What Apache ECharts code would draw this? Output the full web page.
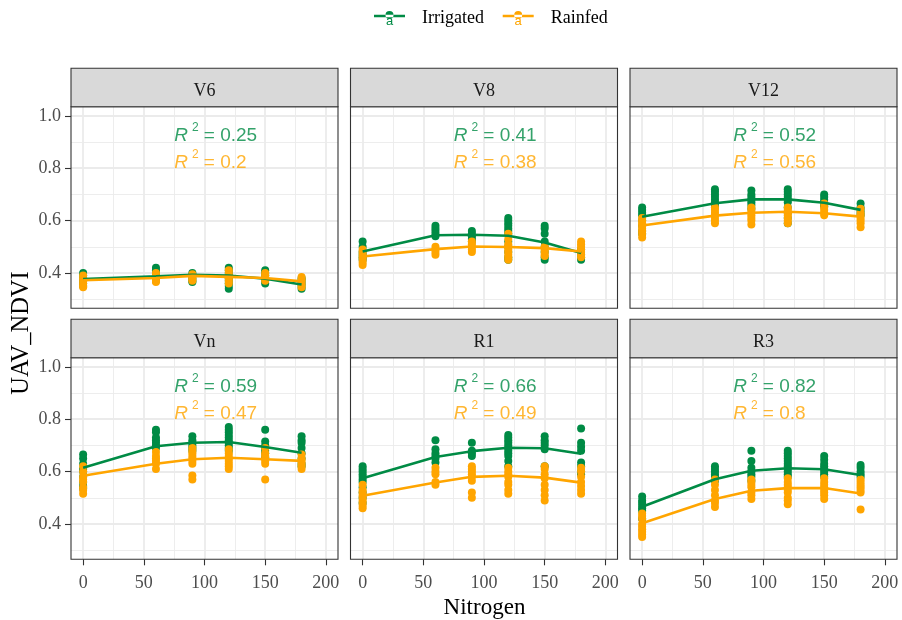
<!DOCTYPE html>
<html><head><meta charset="utf-8">
<script src="https://cdn.jsdelivr.net/npm/echarts@6/dist/echarts.min.js"></script>
<style>html,body{margin:0;padding:0;background:#fff}#c{width:902px;height:620px}</style>
</head><body><div id="c"></div>
<script>
// ---------------- DATA ----------------
const stages = ['V6', 'V8', 'V12', 'Vn', 'R1', 'R3'];
const nitrogen = [0, 60, 90, 120, 150, 180];
const xTicks = [0, 50, 100, 150, 200];
const yTicks = [0.4, 0.6, 0.8, 1.0];
const r2Irrigated = [0.25, 0.41, 0.52, 0.59, 0.66, 0.82];
const r2Rainfed = [0.2, 0.38, 0.56, 0.47, 0.49, 0.8];

// observed UAV_NDVI, one list per nitrogen level (0,60,90,120,150,180)
const irrV6 = [[0.40,0.39,0.38,0.37,0.36,0.35],[0.42,0.41,0.40,0.39,0.38,0.37],[0.40,0.39,0.38,0.37,0.365],[0.42,0.41,0.40,0.39,0.38,0.37,0.36,0.35,0.34],[0.41,0.40,0.39,0.38,0.37,0.36],[0.38,0.37,0.36,0.35,0.34]];
const rainV6 = [[0.39,0.38,0.37,0.36,0.35,0.345],[0.40,0.39,0.38,0.37,0.365],[0.395,0.385,0.375,0.37],[0.41,0.40,0.39,0.38,0.37,0.36],[0.40,0.39,0.38,0.37],[0.385,0.375,0.365,0.355,0.345]];
const irrV8 = [[0.52,0.50,0.48,0.47,0.46,0.45],[0.58,0.57,0.56,0.55,0.54],[0.56,0.55,0.54,0.53,0.52],[0.61,0.60,0.59,0.58,0.57,0.56,0.55,0.52,0.50,0.48,0.46,0.45],[0.58,0.57,0.55,0.52,0.50,0.48,0.46,0.45],[0.49,0.48,0.47,0.46,0.45]];
const rainV8 = [[0.49,0.48,0.47,0.46,0.45,0.44,0.43],[0.50,0.49,0.48,0.47],[0.52,0.51,0.50,0.49,0.48],[0.55,0.53,0.51,0.50,0.49,0.48,0.47,0.46,0.45],[0.50,0.49,0.48,0.47,0.465],[0.52,0.51,0.50,0.49,0.48,0.47,0.46]];
const irrV12 = [[0.65,0.64,0.63,0.62,0.60,0.58,0.56,0.55],[0.72,0.71,0.70,0.69,0.68,0.67,0.66,0.65],[0.715,0.70,0.69,0.68,0.67,0.66,0.645],[0.72,0.71,0.70,0.69,0.68,0.67,0.65,0.63,0.61,0.59],[0.70,0.69,0.68,0.67,0.66,0.655],[0.665,0.65,0.64,0.63,0.62]];
const rainV12 = [[0.61,0.60,0.59,0.58,0.57,0.56,0.55,0.535],[0.65,0.64,0.63,0.62,0.61,0.60,0.59],[0.65,0.64,0.63,0.62,0.61,0.60,0.585],[0.65,0.64,0.63,0.62,0.61,0.60,0.59],[0.665,0.65,0.64,0.63,0.62],[0.645,0.63,0.62,0.61,0.60,0.59,0.575]];
const irrVn = [[0.665,0.65,0.63,0.61,0.60,0.58,0.56,0.545,0.535],[0.76,0.75,0.73,0.72,0.71,0.70,0.69],[0.735,0.72,0.71,0.70,0.69,0.68],[0.77,0.76,0.75,0.74,0.73,0.72,0.71,0.70,0.69,0.68],[0.76,0.715,0.70,0.69,0.68,0.67,0.655],[0.735,0.72,0.71,0.69,0.67,0.65,0.63,0.62]];
const rainVn = [[0.62,0.60,0.58,0.57,0.56,0.54,0.53,0.515],[0.675,0.66,0.65,0.64,0.63,0.61],[0.69,0.68,0.67,0.66,0.65,0.64,0.63,0.585,0.57],[0.685,0.67,0.66,0.65,0.64,0.63,0.62,0.61],[0.69,0.67,0.66,0.65,0.64,0.63,0.57],[0.665,0.65,0.64,0.63,0.62,0.61]];
const irrR1 = [[0.62,0.61,0.60,0.59,0.58,0.57,0.56,0.54,0.52,0.50,0.48],[0.72,0.685,0.67,0.66,0.65,0.635],[0.71,0.68,0.67,0.66],[0.74,0.73,0.72,0.71,0.70,0.69,0.68,0.67,0.66,0.64,0.62],[0.735,0.72,0.71,0.70,0.685,0.62],[0.765,0.71,0.695,0.68,0.635,0.62,0.60,0.59]];
const rainR1 = [[0.55,0.53,0.52,0.51,0.50,0.49,0.48,0.47,0.46],[0.615,0.60,0.59,0.56,0.55],[0.62,0.61,0.60,0.59,0.58,0.565,0.52,0.50],[0.615,0.60,0.59,0.58,0.56,0.55,0.53,0.515],[0.62,0.61,0.59,0.575,0.55,0.53,0.51,0.49],[0.615,0.60,0.58,0.56,0.545,0.53,0.515]];
const irrR3 = [[0.505,0.49,0.48,0.47,0.46,0.45,0.42],[0.62,0.61,0.60,0.59,0.58,0.565],[0.68,0.64,0.615,0.60,0.59,0.58,0.565],[0.68,0.67,0.66,0.65,0.64,0.63,0.62,0.61,0.60,0.59,0.58],[0.66,0.645,0.63,0.62,0.61,0.60,0.59,0.58],[0.625,0.615,0.60,0.59,0.58]];
const rainR3 = [[0.44,0.43,0.42,0.40,0.39,0.38,0.37,0.36,0.35],[0.57,0.55,0.53,0.51,0.49,0.48,0.465],[0.57,0.56,0.55,0.54,0.52,0.51,0.495],[0.575,0.56,0.55,0.54,0.53,0.52,0.50,0.49,0.475],[0.575,0.56,0.55,0.54,0.53,0.52,0.51,0.495],[0.57,0.56,0.55,0.54,0.53,0.52,0.455]];

// fitted (quadratic) values at each nitrogen level
const fitIrrV6  = [0.377, 0.387, 0.393, 0.390, 0.378, 0.356];
const fitRainV6 = [0.372, 0.381, 0.389, 0.385, 0.381, 0.368];
const fitIrrV8  = [0.482, 0.544, 0.546, 0.542, 0.516, 0.476];
const fitRainV8 = [0.463, 0.491, 0.501, 0.499, 0.495, 0.482];
const fitIrrV12  = [0.615, 0.666, 0.681, 0.681, 0.668, 0.641];
const fitRainV12 = [0.581, 0.619, 0.630, 0.634, 0.628, 0.615];
const fitIrrVn  = [0.615, 0.697, 0.710, 0.713, 0.694, 0.672];
const fitRainVn = [0.584, 0.630, 0.647, 0.653, 0.647, 0.641];
const fitIrrR1  = [0.575, 0.656, 0.678, 0.691, 0.689, 0.668];
const fitRainR1 = [0.508, 0.558, 0.580, 0.584, 0.577, 0.558];
const fitIrrR3  = [0.466, 0.571, 0.603, 0.613, 0.609, 0.587];
const fitRainR3 = [0.403, 0.495, 0.527, 0.537, 0.537, 0.516];

const irrPoints = [irrV6, irrV8, irrV12, irrVn, irrR1, irrR3];
const rainPoints = [rainV6, rainV8, rainV12, rainVn, rainR1, rainR3];
const irrFits = [fitIrrV6, fitIrrV8, fitIrrV12, fitIrrVn, fitIrrR1, fitIrrR3];
const rainFits = [fitRainV6, fitRainV8, fitRainV12, fitRainVn, fitRainR1, fitRainR3];

// ---------------- STYLE / LAYOUT ----------------
const GREEN = '#008B45', ORANGE = '#FFA500';
const SERIF = "'Liberation Serif', 'Times New Roman', serif";
const SANS = "'Liberation Sans', Arial, sans-serif";
const colLeft = [71, 350.5, 630], rowTop = [106.7, 357.7];
const panelW = 267, panelH = 201.6, stripH = 38.4;
const labelX = 75, labelYIrr = 0.923, labelYRain = 0.820;

const grids = [], xAxes = [], yAxes = [], series = [], graphics = [];

function pts(levels) {
  const out = [];
  levels.forEach((vals, i) => vals.forEach(v => out.push([nitrogen[i], v])));
  return out;
}
function fitLine(vals) { return vals.map((v, i) => [nitrogen[i], v]); }
function r2Label(val, color) {
  return {
    show: true, position: 'right', distance: 0,
    formatter: '{r|R}{s|2}{t| = ' + String(val) + '}',
    rich: {
      r: { fontFamily: SANS, fontStyle: 'italic', fontSize: 19, lineHeight: 28, color: color },
      s: { fontFamily: SANS, fontSize: 12, lineHeight: 12, verticalAlign: 'top', color: color, padding: [0, 0, 0, 4] },
      t: { fontFamily: SANS, fontSize: 19, lineHeight: 28, color: color }
    }
  };
}

stages.forEach((st, p) => {
  const r = Math.floor(p / 3), c = p % 3;
  const left = colLeft[c], top = rowTop[r];
  const bottomRow = r === 1, leftCol = c === 0;
  grids.push({ left: left, top: top, width: panelW, height: panelH, containLabel: false });
  xAxes.push({
    type: 'value', gridIndex: p, min: -10, max: 210, splitNumber: 4,
    axisLine: { show: false, onZero: false },
    axisTick: { show: bottomRow, length: 6, customValues: xTicks, lineStyle: { color: '#333333', width: 1.1 } },
    axisLabel: { show: bottomRow, customValues: xTicks, margin: 15, fontFamily: SERIF, fontSize: 18, color: '#4D4D4D' },
    splitLine: { show: true, lineStyle: { color: '#EBEBEB', width: 1.8 } },
    minorTick: { show: false, splitNumber: 2 },
    minorSplitLine: { show: true, lineStyle: { color: '#EBEBEB', width: 0.9 } }
  });
  yAxes.push({
    type: 'value', gridIndex: p, min: 0.265, max: 1.035, splitNumber: 4,
    axisLine: { show: false, onZero: false },
    axisTick: { show: leftCol, length: 6, customValues: yTicks, lineStyle: { color: '#333333', width: 1.1 } },
    axisLabel: { show: leftCol, customValues: yTicks, margin: 10, fontFamily: SERIF, fontSize: 18, color: '#4D4D4D',
      padding: [7.6, 0, 0, 0], formatter: v => v.toFixed(1) },
    splitLine: { show: true, lineStyle: { color: '#EBEBEB', width: 1.8 } },
    minorTick: { show: false, splitNumber: 2 },
    minorSplitLine: { show: true, lineStyle: { color: '#EBEBEB', width: 0.9 } }
  });
  series.push({ name: 'Irrigated', type: 'scatter', xAxisIndex: p, yAxisIndex: p, symbolSize: 8,
    itemStyle: { color: GREEN, opacity: 1 }, z: 2, data: pts(irrPoints[p]) });
  series.push({ name: 'Rainfed', type: 'scatter', xAxisIndex: p, yAxisIndex: p, symbolSize: 8,
    itemStyle: { color: ORANGE, opacity: 1 }, z: 3, data: pts(rainPoints[p]) });
  series.push({ name: 'Irrigated', type: 'line', xAxisIndex: p, yAxisIndex: p, showSymbol: false, symbol: 'none',
    lineStyle: { color: GREEN, width: 2.6 }, itemStyle: { color: GREEN }, z: 4, data: fitLine(irrFits[p]) });
  series.push({ name: 'Rainfed', type: 'line', xAxisIndex: p, yAxisIndex: p, showSymbol: false, symbol: 'none',
    lineStyle: { color: ORANGE, width: 2.6 }, itemStyle: { color: ORANGE }, z: 5, data: fitLine(rainFits[p]) });
  series.push({ type: 'scatter', xAxisIndex: p, yAxisIndex: p, symbolSize: 0, silent: true, z: 6,
    itemStyle: { color: GREEN }, label: r2Label(r2Irrigated[p], GREEN), data: [[labelX, labelYIrr]] });
  series.push({ type: 'scatter', xAxisIndex: p, yAxisIndex: p, symbolSize: 0, silent: true, z: 6,
    itemStyle: { color: ORANGE }, label: r2Label(r2Rainfed[p], ORANGE), data: [[labelX, labelYRain]] });

  // panel border + strip
  graphics.push({ type: 'rect', z: 100, silent: true, shape: { x: left, y: top, width: panelW, height: panelH },
    style: { fill: 'none', stroke: '#333333', lineWidth: 1.1 } });
  graphics.push({ type: 'rect', z: 100, silent: true, shape: { x: left, y: top - stripH, width: panelW, height: stripH },
    style: { fill: '#D9D9D9', stroke: '#333333', lineWidth: 1.1 } });
  graphics.push({ type: 'text', z: 101, silent: true, x: left + panelW / 2, y: top - stripH / 2 + 3.5,
    style: { text: st, fill: '#1A1A1A', font: '18px ' + SERIF, align: 'center', verticalAlign: 'middle' } });
});

// axis titles
graphics.push({ type: 'text', z: 101, x: 22, y: 333, rotation: Math.PI / 2,
  style: { text: 'UAV_NDVI', fill: '#000', font: '24.5px ' + SERIF, align: 'center', verticalAlign: 'middle' } });
graphics.push({ type: 'text', z: 101, x: 484.5, y: 608,
  style: { text: 'Nitrogen', fill: '#000', font: '23px ' + SERIF, align: 'center', verticalAlign: 'middle' } });
// the "a" glyph of the text layer in the legend keys
graphics.push({ type: 'text', z: 101, x: 389.5, y: 21, style: { text: 'a', fill: GREEN, font: '13px ' + SANS, align: 'center', verticalAlign: 'middle' } });
graphics.push({ type: 'text', z: 101, x: 518, y: 21, style: { text: 'a', fill: ORANGE, font: '13px ' + SANS, align: 'center', verticalAlign: 'middle' } });

const keyIcon = 'path://M0,5.2h31v2.6h-31z M11.5,5.5a4,4 0 1,0 8,0a4,4 0 1,0 -8,0z';
function legendFor(name, left) {
  return {
    data: [{ name: name, icon: keyIcon }], left: left, top: 3, padding: 0,
    itemWidth: 31, itemHeight: 10, selectedMode: false,
    formatter: '{t|{name}}',
    textStyle: { rich: { t: { fontFamily: SERIF, fontSize: 18, color: '#000', lineHeight: 20, padding: [6, 0, 0, 12] } } }
  };
}

const chart = echarts.init(document.getElementById('c'), null, { renderer: 'canvas' });
chart.setOption({
  animation: false,
  backgroundColor: '#fff',
  legend: [legendFor('Irrigated', 374), legendFor('Rainfed', 502.7)],
  grid: grids, xAxis: xAxes, yAxis: yAxes, series: series, graphic: graphics
});
</script></body></html>
